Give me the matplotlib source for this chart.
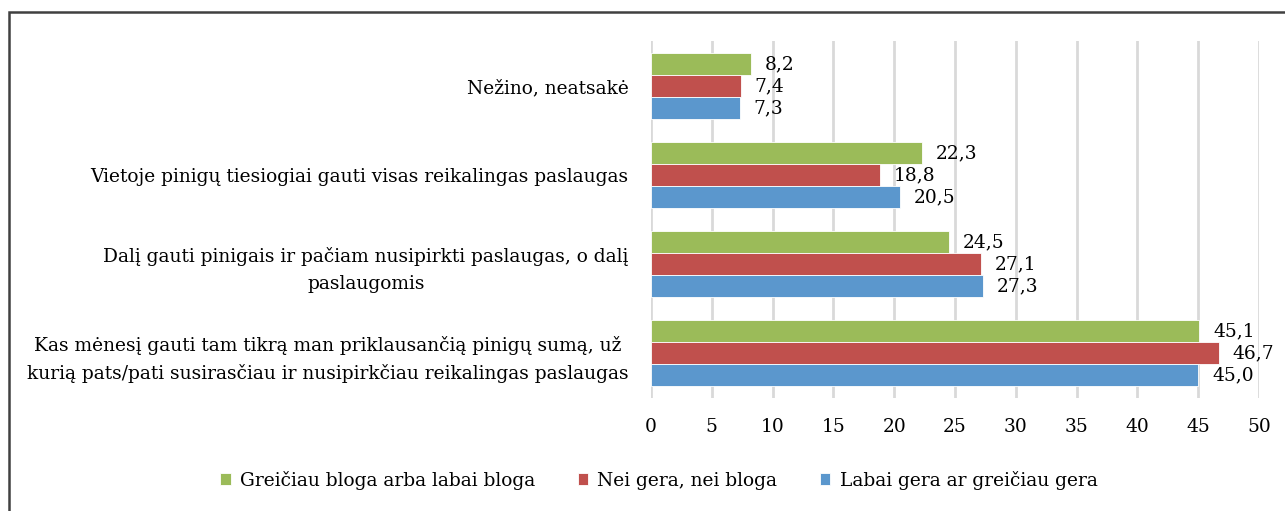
import matplotlib
matplotlib.use("Agg")
import matplotlib.pyplot as plt
from matplotlib.patches import Rectangle
import numpy as np

categories = [
    "Kas mėnesį gauti tam tikrą man priklausančią pinigų sumą, už\nkurią pats/pati susirasčiau ir nusipirkčiau reikalingas paslaugas",
    "Dalį gauti pinigais ir pačiam nusipirkti paslaugas, o dalį\npaslaugomis",
    "Vietoje pinigų tiesiogiai gauti visas reikalingas paslaugas",
    "Nežino, neatsakė",
]
series_names = ["Greičiau bloga arba labai bloga", "Nei gera, nei bloga", "Labai gera ar greičiau gera"]
bloga = [45.1, 24.5, 22.3, 8.2]
nei = [46.7, 27.1, 18.8, 7.4]
gera = [45.0, 27.3, 20.5, 7.3]
xticks = [0, 5, 10, 15, 20, 25, 30, 35, 40, 45, 50]

colors = ["#9BBB59", "#C0504D", "#5B97CD"]

plt.rcParams['font.family'] = ['DejaVu Serif']
fs = 13.4

fig = plt.figure(figsize=(12.85, 5.11), dpi=100)
ax = fig.add_axes([651/1285, 1-397.5/511, (1259-651)/1285, 356/511])

y = np.arange(len(categories))
h = 0.247
for i, (vals, col, name) in enumerate(zip([bloga, nei, gera], colors, series_names)):
    pos = y + (1 - i) * h
    ax.barh(pos, vals, height=h, color=col, label=name, zorder=3,
            edgecolor='white', linewidth=0.6)
    for p, v in zip(pos, vals):
        ax.annotate(f"{v:.1f}".replace('.', ','), xy=(v, p), xytext=(10, 0),
                    textcoords='offset points', va='center', ha='left', fontsize=fs)

ax.set_xlim(0, 50)
ax.set_ylim(-0.5, len(categories) - 0.5)
ax.set_xticks(xticks)
ax.set_xticklabels([str(t) for t in xticks], fontsize=fs)
ax.set_yticks(y)
ax.set_yticklabels(categories, fontsize=fs, ha='right', multialignment='center', linespacing=1.6)
ax.tick_params(axis='y', length=0, pad=16)
ax.tick_params(axis='x', length=0, pad=15)
ax.grid(axis='x', color='#D9D9D9', linewidth=2, zorder=0)
for s in ax.spines.values():
    s.set_visible(False)

handles, labels = ax.get_legend_handles_labels()
fig.legend(handles, labels, loc='center', bbox_to_anchor=(659/1285, 1-480/511), ncol=3,
           frameon=False, fontsize=fs, handlelength=0.55, handleheight=0.55,
           handletextpad=0.5, columnspacing=2.3)

fig.patches.append(Rectangle((8.5/1285, -0.1), 1.2, 1 - 12/511 + 0.1, transform=fig.transFigure,
                             fill=False, edgecolor='#404040', linewidth=1.8))

fig.savefig("out.png", dpi=100)
